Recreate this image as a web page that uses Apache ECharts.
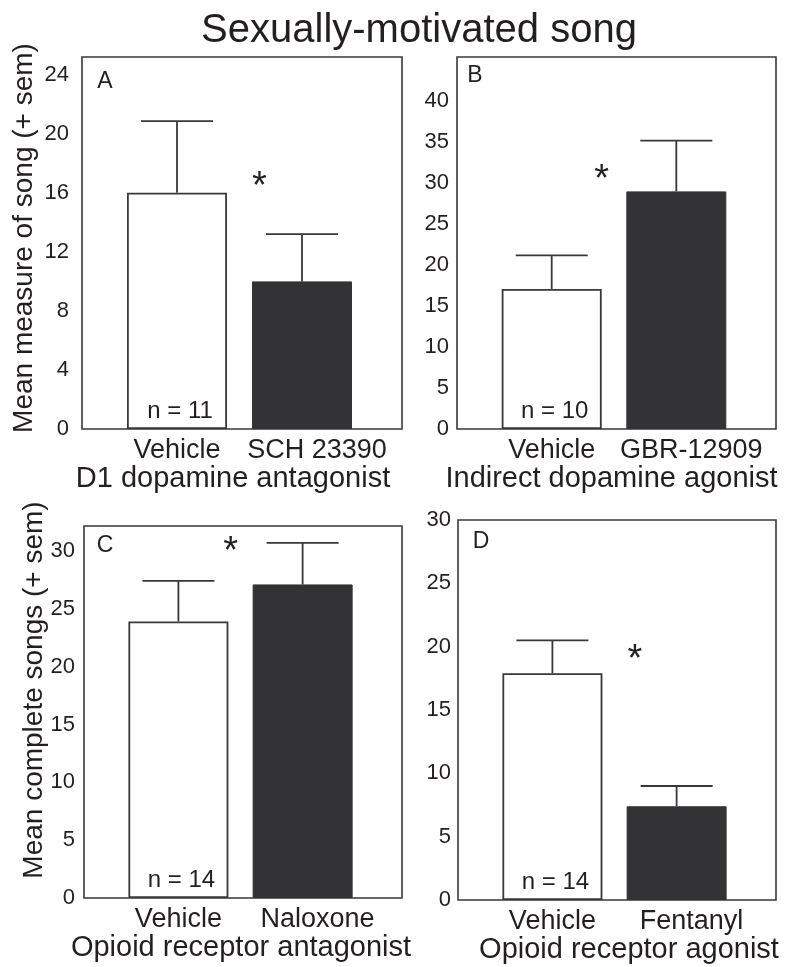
<!DOCTYPE html>
<html>
<head>
<meta charset="utf-8">
<script src="https://cdn.jsdelivr.net/npm/echarts@6/dist/echarts.min.js"></script>
<style>
  html, body { margin: 0; padding: 0; background: #fff; }
  #chart { width: 795px; height: 967px; }
</style>
</head>
<body>
<div id="chart"></div>
<script>
// values
const titleText = 'Sexually-motivated song';

const catsA = ['Vehicle', 'SCH 23390'];
const meansA = [16.0, 10.0];
const semsA = [4.85, 3.2];
const nA = 11;
const starA = [0.66, 17.0];

const catsB = ['Vehicle', 'GBR-12909'];
const meansB = [17.1, 29.0];
const semsB = [4.1, 6.2];
const nB = 10;
const starB = [0.40, 31.4];

const catsC = ['Vehicle', 'Naloxone'];
const meansC = [23.9, 27.1];
const semsC = [3.5, 3.6];
const nC = 14;
const starC = [0.42, 30.6];

const catsD = ['Vehicle', 'Fentanyl'];
const meansD = [17.9, 7.4];
const semsD = [2.6, 1.6];
const nD = 14;
const starD = [0.665, 19.65];

const FONT = 'Liberation Sans';
const INK = '#231f20';
const LINE = '#383838';
const DARK = '#333336';

const panels = [
  { letter: 'A', cats: catsA, means: meansA, sems: semsA, n: nA, star: starA,
    xName: 'D1 dopamine antagonist', nameShift: -9,
    grid: { left: 82, top: 57, width: 320, height: 372 },
    yMax: 25.2, yInt: 4, yTop: 24, yMargin: 13, letterPos: [105, 82] },
  { letter: 'B', cats: catsB, means: meansB, sems: semsB, n: nB, star: starB,
    xName: 'Indirect dopamine agonist', nameShift: -5,
    grid: { left: 457, top: 57, width: 319, height: 372 },
    yMax: 45.4, yInt: 5, yTop: 40, yMargin: 8, letterPos: [475, 76] },
  { letter: 'C', cats: catsC, means: meansC, sems: semsC, n: nC, star: starC,
    xName: 'Opioid receptor antagonist', nameShift: -2,
    grid: { left: 84, top: 526, width: 318, height: 372 },
    yMax: 32.15, yInt: 5, yTop: 30, yMargin: 9, letterPos: [105, 546] },
  { letter: 'D', cats: catsD, means: meansD, sems: semsD, n: nD, star: starD,
    xName: 'Opioid receptor agonist', nameShift: 12,
    grid: { left: 458, top: 520, width: 318, height: 380 },
    yMax: 30, yInt: 5, yTop: 30, yMargin: 7, letterPos: [481, 542] }
];

const grids = [], xAxes = [], yAxes = [], series = [];
const graphics = [
  { type: 'text', x: 419, y: 31, style: { text: titleText, font: '40px "' + FONT + '"', fill: INK, align: 'center', verticalAlign: 'middle' } },
  { type: 'text', x: 24, y: 238, rotation: Math.PI / 2, style: { text: 'Mean measure of song (+ sem)', font: '28px "' + FONT + '"', fill: INK, align: 'center', verticalAlign: 'middle' } },
  { type: 'text', x: 34, y: 690, rotation: Math.PI / 2, style: { text: 'Mean complete songs (+ sem)', font: '28px "' + FONT + '"', fill: INK, align: 'center', verticalAlign: 'middle' } }
];

panels.forEach((p, i) => {
  grids.push(Object.assign({ show: true, borderColor: LINE, borderWidth: 1.6, backgroundColor: 'transparent' }, p.grid));

  const s = p.nameShift;
  xAxes.push({
    type: 'value', gridIndex: i, min: -0.76, max: 1.8,
    axisLine: { show: false }, axisTick: { show: false }, splitLine: { show: false },
    axisLabel: {
      customValues: [0, 1.12], margin: 8, fontFamily: FONT, fontSize: 27, color: INK,
      formatter: v => p.cats[Math.round(v)]
    },
    name: p.xName, nameLocation: 'middle', nameGap: 33,
    nameTextStyle: { fontFamily: FONT, fontSize: 29, color: INK,
      padding: [0, s < 0 ? -2 * s : 0, 0, s > 0 ? 2 * s : 0] }
  });

  yAxes.push({
    type: 'value', gridIndex: i, min: 0, max: p.yMax, interval: p.yInt,
    axisLine: { show: false }, axisTick: { show: false }, splitLine: { show: false },
    axisLabel: { margin: p.yMargin, fontFamily: FONT, fontSize: 22, color: INK,
      showMaxLabel: true,
      formatter: v => (v <= p.yTop && v % p.yInt === 0) ? String(v) : '' }
  });

  // error bars (mean to mean + sem, with cap)
  series.push({
    type: 'custom', xAxisIndex: i, yAxisIndex: i, z: 1,
    data: p.means.map((m, k) => [k, m, p.sems[k]]),
    renderItem: (params, api) => {
      const x = api.value(0), m = api.value(1), e = api.value(2);
      const a = api.coord([x, m]);
      const b = api.coord([x, m + e]);
      const st = { stroke: LINE, lineWidth: 1.8 };
      return { type: 'group', children: [
        { type: 'line', shape: { x1: a[0], y1: a[1], x2: b[0], y2: b[1] }, style: st },
        { type: 'line', shape: { x1: b[0] - 36, y1: b[1], x2: b[0] + 36, y2: b[1] }, style: st }
      ] };
    }
  });

  series.push({
    type: 'bar', xAxisIndex: i, yAxisIndex: i, barWidth: 100, z: 2,
    data: p.means.map((m, k) => ({
      value: [k, m],
      itemStyle: k === 0
        ? { color: '#fff', borderColor: LINE, borderWidth: 1.8 }
        : { color: DARK, borderColor: DARK, borderWidth: 1 },
      label: k === 0
        ? { show: true, position: 'insideBottom', distance: 6, formatter: 'n = ' + p.n,
            fontFamily: FONT, fontSize: 24, color: INK, offset: [3, 0] }
        : { show: false }
    }))
  });

  // significance asterisk
  series.push({
    type: 'custom', xAxisIndex: i, yAxisIndex: i, z: 3,
    data: [p.star],
    renderItem: (params, api) => {
      const c = api.coord([api.value(0), api.value(1)]);
      return { type: 'text', x: c[0], y: c[1] + 9,
        style: { text: '*', font: '38px "' + FONT + '"', fill: INK, align: 'center', verticalAlign: 'middle' } };
    }
  });

  graphics.push({ type: 'text', x: p.letterPos[0], y: p.letterPos[1],
    style: { text: p.letter, font: '23px "' + FONT + '"', fill: INK, align: 'center', verticalAlign: 'middle' } });
});

const chart = echarts.init(document.getElementById('chart'));
chart.setOption({
  backgroundColor: '#fff',
  animation: false,
  grid: grids,
  xAxis: xAxes,
  yAxis: yAxes,
  series: series,
  graphic: graphics
});
</script>
</body>
</html>
